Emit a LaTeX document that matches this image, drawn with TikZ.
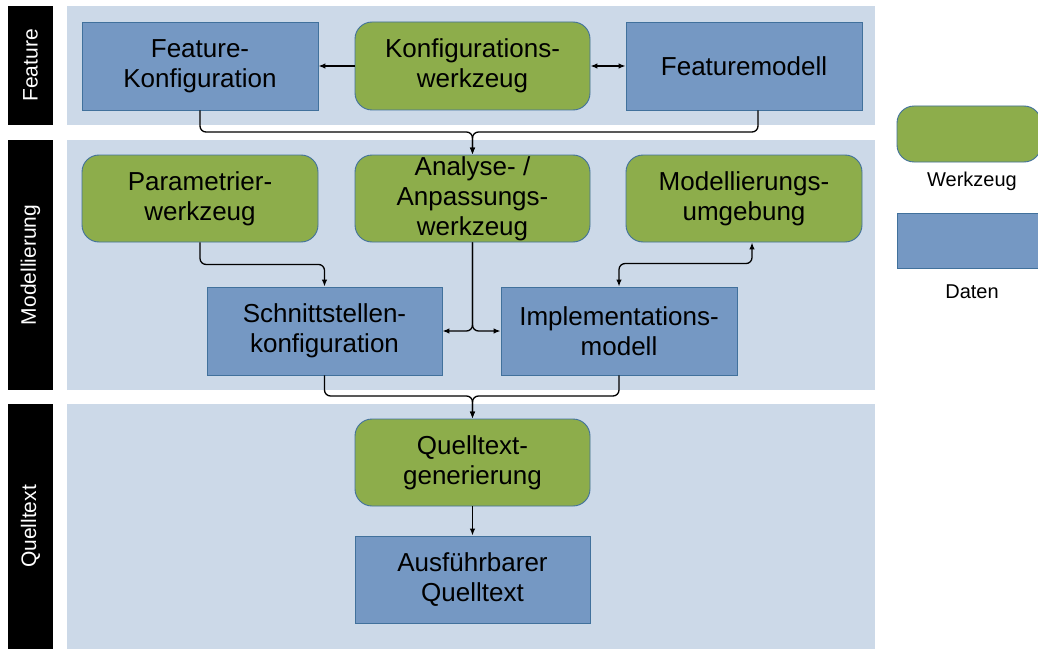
\documentclass[tikz,border=0pt]{standalone}
\usepackage{fontspec}
\setmainfont{Liberation Sans}
\usetikzlibrary{arrows.meta,calc}
\definecolor{lanefill}{HTML}{CCD9E8}
\definecolor{toolfill}{HTML}{8DAD4B}
\definecolor{datafill}{HTML}{7598C3}
\definecolor{boxedge}{HTML}{41719C}

\begin{document}
\begin{tikzpicture}[x=1pt,y=-1pt,
  lanebg/.style={fill=lanefill,draw=none,minimum width=808pt,inner sep=0pt},
  sidebar/.style={fill=black,draw=none,text=white,rotate=90,inner sep=0pt,
    minimum height=45pt,font=\fontsize{21}{24}\selectfont},
  boxbase/.style={draw=boxedge,line width=0.9pt,align=center,inner sep=0pt,
    minimum width=235pt,minimum height=87pt,font=\fontsize{26}{30}\selectfont},
  toolbox/.style={boxbase,fill=toolfill,rounded corners=17pt},
  databox/.style={boxbase,fill=datafill},
  legendtext/.style={font=\fontsize{20}{24}\selectfont},
  flow/.style={line width=1.3pt,rounded corners=6pt,-{Latex[length=7pt,width=5.5pt]}},
  bothflow/.style={line width=1.3pt,rounded corners=6pt,{Latex[length=7pt,width=5.5pt]}-{Latex[length=7pt,width=5.5pt]}}
]
\useasboundingbox (0,0) rectangle (1038,650);
\clip (0,0) rectangle (1038,650);
\fill[white] (0,0) rectangle (1038,650);

% swim lanes and their side labels
\node[lanebg,minimum height=119pt] (lanefeat) at (471,65.5) {};
\node[lanebg,minimum height=250pt] (lanemod) at (471,265) {};
\node[lanebg,minimum height=245pt] (lanesrc) at (471,526.5) {};
\node[sidebar,minimum width=119pt] (barfeat) at (30.5,65.5) {Feature};
\node[sidebar,minimum width=250pt] (barmod) at (30.5,265) {Modellierung};
\node[sidebar,minimum width=245pt] (barsrc) at (30.5,526.5) {Quelltext};

% feature level
\node[databox,minimum width=236pt,minimum height=88pt] (fk) at (200,66) {Feature-\\Konfiguration};
\node[toolbox,minimum height=88pt] (kw) at (472.5,66) {Konfigurations-\\werkzeug};
\node[databox,minimum width=236pt,minimum height=88pt] (fm) at (744,66) {Featuremodell};

% modelling level
\node[toolbox,minimum width=236pt] (pw) at (200,198.5) {Parametrier-\\werkzeug};
\node[toolbox] (aw) at (472.5,198.5) {Analyse- /\\Anpassungs-\\werkzeug};
\node[toolbox,minimum width=236pt] (mu) at (744,198.5) {Modellierungs-\\umgebung};
\node[databox,minimum height=88pt] (sk) at (324.5,331) {Schnittstellen-\\konfiguration};
\node[databox,minimum width=236pt,minimum height=88pt] (im) at (619,331) {Implementations-\\modell};

% source level
\node[toolbox] (qg) at (472.5,462.5) {Quelltext-\\generierung};
\node[databox] (aq) at (472.5,579.5) {Ausführbarer\\Quelltext};

% legend
\node[toolbox,minimum width=144pt,minimum height=56pt] (lgtool) at (969,134) {};
\node[databox,minimum width=144pt,minimum height=55pt] (lgdata) at (969,240.5) {};
\node[legendtext] (lgtooltext) at (972,181) {Werkzeug};
\node[legendtext] (lgdatatext) at (972,292) {Daten};

% connectors: feature level
\draw[flow] (kw.west) -- (fk.east);
\draw[bothflow] (kw.east) -- (fm.west);
\draw[flow] (fk.south) |- (472.5,132) -- (aw.north);
\draw[flow] ($(fm.south)+(14,0)$) |- (472.5,132) -- (aw.north);

% connectors: modelling level
\draw[flow] (pw.south) -- ++(0,22) -| (sk.north);
\draw[bothflow] (im.north) -- ++(0,-23) -| ($(mu.south)+(8,0)$);
\draw[flow] (aw.south) |- (sk.east);
\draw[flow] (aw.south) |- (im.west);

% connectors: towards source code
\draw[flow] (sk.south) |- (472.5,396) -- (qg.north);
\draw[flow] (im.south) |- (472.5,396) -- (qg.north);
\draw[flow] (qg.south) -- (aq.north);
\end{tikzpicture}
\end{document}
